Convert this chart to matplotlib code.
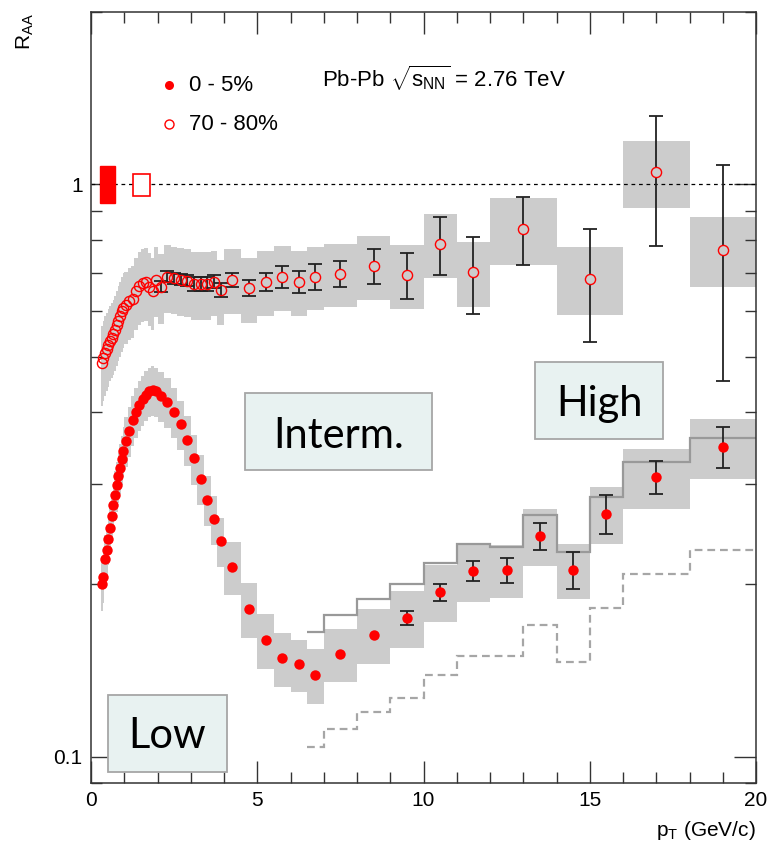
import numpy as np
import matplotlib
matplotlib.use('Agg')
import matplotlib.pyplot as plt
from matplotlib.patches import Rectangle
from matplotlib.ticker import FixedLocator, FixedFormatter, MultipleLocator, NullFormatter

plt.rcParams['font.family'] = ['Liberation Sans', 'DejaVu Sans']
plt.rcParams['mathtext.fontset'] = 'custom'
plt.rcParams['mathtext.rm'] = 'Liberation Sans'
plt.rcParams['mathtext.it'] = 'Liberation Sans:italic'
plt.rcParams['mathtext.bf'] = 'Liberation Sans:bold'

# ---------------- data ----------------
pt_low = [0.325, 0.375, 0.425, 0.475, 0.525, 0.575, 0.625, 0.675, 0.725, 0.775, 0.825, 0.875, 0.925, 0.975,
          1.05, 1.15, 1.25, 1.35, 1.45, 1.55, 1.65, 1.75, 1.85, 1.95,
          2.1, 2.3, 2.5, 2.7, 2.9, 3.1, 3.3, 3.5, 3.7, 3.9,
          4.25, 4.75, 5.25, 5.75, 6.25, 6.75]
w_low = [0.05] * 14 + [0.1] * 10 + [0.2] * 10 + [0.5] * 6

# 0-5% central
pt_c = pt_low + [7.5, 8.5, 9.5, 10.5, 11.5, 12.5, 13.5, 14.5, 15.5, 17, 19]
w_c = w_low + [1, 1, 1, 1, 1, 1, 1, 1, 1, 2, 2]
raa_c = [0.200, 0.206, 0.222, 0.230, 0.240, 0.251, 0.263, 0.275, 0.287, 0.298, 0.309, 0.320, 0.331, 0.342,
         0.356, 0.371, 0.388, 0.401, 0.412, 0.421, 0.429, 0.435, 0.438, 0.435,
         0.427, 0.417, 0.400, 0.381, 0.358, 0.332, 0.306, 0.281, 0.260, 0.238,
         0.2145, 0.181, 0.160, 0.1485, 0.145, 0.139,
         0.151, 0.163, 0.175, 0.194, 0.211, 0.212, 0.243, 0.212, 0.266, 0.308, 0.348]
stat_c = [0.0] * 40 + [0.0, 0.0, 0.005, 0.0065, 0.0085, 0.0107, 0.0135, 0.0157, 0.0208, 0.0202, 0.029]
sys_c = [0.10] * 34 + [0.105, 0.11, 0.11, 0.11, 0.105, 0.11,
                       0.106, 0.11, 0.115, 0.115, 0.115, 0.105, 0.115, 0.11, 0.115, 0.12, 0.12]

# 70-80% peripheral
pt_p = pt_low + [7.5, 8.5, 9.5, 10.5, 11.5, 13, 15, 17, 19]
w_p = w_low + [1, 1, 1, 1, 1, 2, 2, 2, 2]
raa_p = [0.488, 0.498, 0.508, 0.516, 0.524, 0.533, 0.540, 0.547, 0.556, 0.567, 0.578, 0.588, 0.600, 0.608,
         0.615, 0.625, 0.630, 0.650, 0.665, 0.672, 0.676, 0.662, 0.650, 0.681,
         0.663, 0.690, 0.686, 0.681, 0.679, 0.670, 0.670, 0.670, 0.676, 0.654,
         0.681, 0.659, 0.676, 0.690, 0.676, 0.690,
         0.698, 0.721, 0.695, 0.786, 0.702, 0.836, 0.684, 1.049, 0.768]
stat_p = [0.0] * 24 + [0.015] * 5 + [0.018] * 5 + [0.020, 0.022, 0.025, 0.030, 0.031, 0.037,
                                                  0.036, 0.051, 0.065, 0.091, 0.108, 0.114, 0.153, 0.269, 0.314]
sys_p = [0.16, 0.16, 0.16, 0.155, 0.155, 0.15, 0.15, 0.15, 0.15, 0.15, 0.15, 0.15, 0.15, 0.15,
         0.145, 0.145, 0.145, 0.145, 0.145, 0.145, 0.145, 0.145, 0.145, 0.14,
         0.14, 0.135, 0.135, 0.135, 0.135, 0.135, 0.135, 0.135, 0.13, 0.13,
         0.13, 0.13, 0.13, 0.13, 0.13, 0.125,
         0.125, 0.128, 0.128, 0.128, 0.13, 0.134, 0.135, 0.135, 0.14]

# reference curves (step histograms)
step_edges = [6.5, 7, 8, 9, 10, 11, 12, 13, 14, 15, 16, 18, 20]
step_solid = [0.165, 0.177, 0.189, 0.2006, 0.218, 0.235, 0.2326, 0.265, 0.228, 0.284, 0.327, 0.361]
step_dashed = [0.104, 0.1117, 0.1198, 0.1269, 0.139, 0.150, 0.150, 0.1697, 0.1464, 0.1816, 0.2085, 0.2302]

# normalisation uncertainties at R_AA = 1
norm_c = [0.927, 1.076]
norm_p = [0.955, 1.042]

# ---------------- figure ----------------
W, H = 767, 849
fig = plt.figure(figsize=(W / 100, H / 100), dpi=100)
L, R, T, B = 91, 756, 12, 783
ax = fig.add_axes([L / W, 1 - B / H, (R - L) / W, (B - T) / H])
ax.set_yscale('log')
ax.set_xlim(0, 20)
ax.set_ylim(0.09, 2.0)

GRAY = '#cccccc'


def draw_sys(pt, w, y, rel):
    left = [p - ww / 2 for p, ww in zip(pt, w)]
    lo = [v * (1 - r) for v, r in zip(y, rel)]
    hi = [v * (1 + r) for v, r in zip(y, rel)]
    ax.bar(left, [h - l for h, l in zip(hi, lo)], bottom=lo, width=w, align='edge',
           color=GRAY, linewidth=0, zorder=1)


draw_sys(pt_p, w_p, raa_p, sys_p)
draw_sys(pt_c, w_c, raa_c, sys_c)

ax.stairs(step_solid, step_edges, baseline=None, color='#999999', lw=1.6, zorder=2)
ax.stairs(step_dashed, step_edges, baseline=None, color='#a6a6a6', lw=1.6,
          linestyle=(0, (3.5, 2.2)), zorder=2)

ax.axhline(1.0, color='black', lw=0.9, linestyle=(0, (3, 3)), zorder=2)

# normalisation boxes
ax.add_patch(Rectangle((0.27, norm_c[0]), 0.45, norm_c[1] - norm_c[0], facecolor='red',
                       edgecolor='red', lw=1, zorder=3))
ax.add_patch(Rectangle((1.25, norm_p[0]), 0.53, norm_p[1] - norm_p[0], facecolor='white',
                       edgecolor='red', lw=1.2, zorder=3))

# statistical errors
pc = np.array(pt_c); yc = np.array(raa_c); sc = np.array(stat_c)
m = sc > 0
ax.errorbar(pc[m], yc[m], yerr=sc[m], fmt='none', ecolor='#222222', elinewidth=1.3,
            capsize=4.7, capthick=1.3, zorder=3)
pp = np.array(pt_p); yp = np.array(raa_p); sp = np.array(stat_p)
m = sp > 0
ax.errorbar(pp[m], yp[m], yerr=sp[m], fmt='none', ecolor='#222222', elinewidth=1.3,
            capsize=4.7, capthick=1.3, zorder=3)

# markers
ax.plot(pt_c, raa_c, 'o', color='red', markersize=7.5, markeredgewidth=0, zorder=5)
mlow = pp < 4
ax.plot(pp[mlow], yp[mlow], 'o', mfc='none', mec='red', markersize=7.3, mew=1.0, zorder=5)
ax.plot(pp[~mlow], yp[~mlow], 'o', mfc=GRAY, mec='red', markersize=7.3, mew=1.0, zorder=5)

# legend / labels
ax.plot([2.35], [1.49], 'o', color='red', markersize=6.5, markeredgewidth=0)
ax.plot([2.35], [1.274], 'o', mfc='none', mec='red', markersize=6.5, mew=1.0)
ax.text(2.95, 1.49, '0 - 5%', fontsize=16, va='center', ha='left')
ax.text(2.95, 1.274, '70 - 80%', fontsize=16, va='center', ha='left')
ax.text(6.95, 1.53, r'Pb-Pb $\sqrt{\mathrm{s}_{\mathrm{NN}}}$ = 2.76 TeV', fontsize=16,
        va='center', ha='left')

# ticks
ax.xaxis.set_major_locator(MultipleLocator(5))
ax.xaxis.set_minor_locator(MultipleLocator(1))
ax.yaxis.set_major_locator(FixedLocator([0.1, 1]))
ax.yaxis.set_major_formatter(FixedFormatter(['0.1', '1']))
ax.yaxis.set_minor_locator(FixedLocator([0.09, 0.2, 0.3, 0.4, 0.5, 0.6, 0.7, 0.8, 0.9, 2.0]))
ax.yaxis.set_minor_formatter(NullFormatter())
ax.tick_params(which='both', direction='in', top=True, right=True, colors='#333333',
               labelcolor='black', labelsize=15, width=1.0)
ax.tick_params(which='major', length=15.5, pad=6)
ax.tick_params(which='minor', length=8)
for s in ax.spines.values():
    s.set_linewidth(1.1)
    s.set_color('#333333')

fig.text(756 / W, 1 - 836 / H, r'p$_{\rm T}$ (GeV/c)', fontsize=15, ha='right', va='baseline')
fig.text(25 / W, 1 - 32 / H, r'R$_{\rm AA}$', fontsize=15, rotation=90, ha='center', va='center')

# region boxes
BOXF = '#e8f2f1'
BOXE = '#a6a6a6'
for (x0, y0, x1, y1, txt, base) in [(108, 695, 227, 772, 'Low', 748),
                                     (245, 393, 432, 470, 'Interm.', 448),
                                     (535, 362, 663, 439, 'High', 416)]:
    fig.add_artist(Rectangle((x0 / W, 1 - y1 / H), (x1 - x0) / W, (y1 - y0) / H,
                             transform=fig.transFigure, facecolor=BOXF, edgecolor=BOXE,
                             lw=1.3, zorder=10))
    fig.text((x0 + x1) / 2 / W, 1 - base / H, txt, fontsize=30, family=['Lato', 'DejaVu Sans'],
             ha='center', va='baseline', zorder=11)

fig.savefig('out.png', dpi=100)
